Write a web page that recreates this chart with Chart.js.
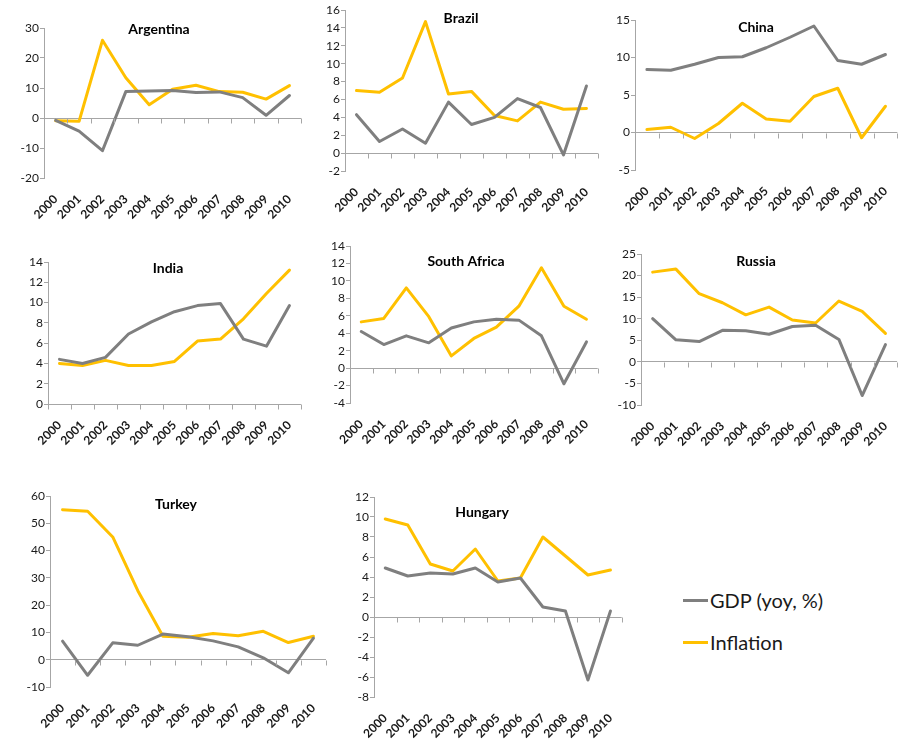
<!DOCTYPE html>
<html>
<head>
<meta charset="utf-8">
<title>GDP growth and inflation, 2000-2010</title>
<script src="https://cdn.jsdelivr.net/npm/chart.js@4.4.1/dist/chart.umd.min.js"></script>
<style>
  html, body { margin: 0; padding: 0; background: #ffffff; }
  body { width: 903px; height: 744px; position: relative; overflow: hidden; font-family: Lato, "Open Sans", sans-serif; }
  canvas.panel { position: absolute; }
  .legend { position: absolute; left: 683px; top: 586px; font: 20px Lato, "Open Sans", sans-serif; color: #1a1a1a; }
  .legend .item { display: flex; align-items: center; height: 28px; margin-bottom: 14px; white-space: nowrap; }
  .legend .swatch { width: 25px; height: 3px; margin-right: 2px; }
</style>
</head>
<body>
<div class="legend">
  <div class="item"><span class="swatch" style="background:#7f7f7f"></span><span>GDP (yoy, %)</span></div>
  <div class="item"><span class="swatch" style="background:#ffc000"></span><span>Inflation</span></div>
</div>
<script>
// Years on every horizontal axis
const years = ['2000', '2001', '2002', '2003', '2004', '2005', '2006', '2007', '2008', '2009', '2010'];

// Real GDP growth (yoy, %) and consumer price inflation (%) by country
const argentinaGdp       = [-0.8, -4.4, -10.9, 8.8, 9.0, 9.2, 8.5, 8.7, 6.8, 0.9, 7.5];
const argentinaInflation = [-0.9, -1.1, 25.9, 13.4, 4.4, 9.6, 10.9, 8.8, 8.6, 6.3, 10.8];
const brazilGdp          = [4.3, 1.3, 2.7, 1.1, 5.7, 3.2, 4.0, 6.1, 5.1, -0.2, 7.5];
const brazilInflation    = [7.0, 6.8, 8.4, 14.7, 6.6, 6.9, 4.2, 3.6, 5.7, 4.9, 5.0];
const chinaGdp           = [8.4, 8.3, 9.1, 10.0, 10.1, 11.3, 12.7, 14.2, 9.6, 9.1, 10.4];
const chinaInflation     = [0.4, 0.7, -0.8, 1.2, 3.9, 1.8, 1.5, 4.8, 5.9, -0.7, 3.5];
const indiaGdp           = [4.4, 4.0, 4.6, 6.9, 8.1, 9.1, 9.7, 9.9, 6.4, 5.7, 9.7];
const indiaInflation     = [4.0, 3.8, 4.3, 3.8, 3.8, 4.2, 6.2, 6.4, 8.4, 10.9, 13.2];
const southAfricaGdp       = [4.2, 2.7, 3.7, 2.9, 4.6, 5.3, 5.6, 5.5, 3.7, -1.8, 3.0];
const southAfricaInflation = [5.3, 5.7, 9.2, 5.9, 1.4, 3.4, 4.7, 7.1, 11.5, 7.1, 5.6];
const russiaGdp          = [10.0, 5.1, 4.7, 7.3, 7.2, 6.4, 8.2, 8.5, 5.2, -7.8, 4.0];
const russiaInflation    = [20.8, 21.5, 15.8, 13.7, 10.9, 12.7, 9.7, 9.0, 14.1, 11.7, 6.6];
const turkeyGdp          = [6.8, -5.7, 6.2, 5.3, 9.4, 8.4, 6.9, 4.7, 0.7, -4.8, 7.9];
const turkeyInflation    = [55.0, 54.4, 45.0, 25.3, 8.6, 8.2, 9.6, 8.8, 10.4, 6.3, 8.6];
const hungaryGdp         = [4.9, 4.1, 4.4, 4.3, 4.9, 3.5, 3.9, 1.0, 0.6, -6.3, 0.6];
const hungaryInflation   = [9.8, 9.2, 5.3, 4.6, 6.8, 3.6, 3.9, 8.0, 6.1, 4.2, 4.7];

// Series names
const gdpLabel = 'GDP (yoy, %)';
const inflationLabel = 'Inflation';

// Colours
const gdpColor = '#7f7f7f';
const inflationColor = '#ffc000';
const axisColor = '#a6a6a6';
const textColor = '#1a1a1a';

// Plot-area box on the page [left, top, right, bottom], axis range and title centre
const panels = [
  { title: 'Argentina',    gdp: argentinaGdp,   inflation: argentinaInflation,   min: -20, max: 30, step: 10, box: [44, 28, 306, 178],  titleAt: [159, 29] },
  { title: 'Brazil',       gdp: brazilGdp,      inflation: brazilInflation,      min: -2,  max: 16, step: 2,  box: [345, 10, 603, 171], titleAt: [461, 18] },
  { title: 'China',        gdp: chinaGdp,       inflation: chinaInflation,       min: -5,  max: 15, step: 5,  box: [635, 20, 902, 170], titleAt: [756, 27] },
  { title: 'India',        gdp: indiaGdp,       inflation: indiaInflation,       min: 0,   max: 14, step: 2,  box: [48, 262, 306, 404], titleAt: [168, 268] },
  { title: 'South Africa', gdp: southAfricaGdp, inflation: southAfricaInflation, min: -4,  max: 14, step: 2,  box: [350, 246, 603, 403], titleAt: [466, 261] },
  { title: 'Russia',       gdp: russiaGdp,      inflation: russiaInflation,      min: -10, max: 25, step: 5,  box: [641, 254, 902, 405], titleAt: [756, 261] },
  { title: 'Turkey',       gdp: turkeyGdp,      inflation: turkeyInflation,      min: -10, max: 60, step: 10, box: [50, 496, 330, 687], titleAt: [176, 504] },
  { title: 'Hungary',      gdp: hungaryGdp,     inflation: hungaryInflation,     min: -8,  max: 12, step: 2,  box: [374, 497, 627, 697], titleAt: [482, 512] }
];

// Space reserved around each plot area inside its canvas
const yAxisWidth = 44;
const xAxisHeight = 58;
const padTop = 10;
const padRight = 8;

// Draws the panel heading inside the plot area and the small tick marks
// hanging below the zero line at each category boundary.
const panelDecor = {
  id: 'panelDecor',
  afterDraw(chart, args, opts) {
    const { ctx, chartArea, scales } = chart;
    const x = scales.x, y = scales.y;
    const zero = Math.round(y.getPixelForValue(0)) + 0.5;
    ctx.save();
    ctx.strokeStyle = axisColor;
    ctx.lineWidth = 1;
    ctx.beginPath();
    for (let i = 0; i <= years.length; i++) {
      const px = Math.round(x.getPixelForValue(i - 0.5)) + 0.5;
      ctx.moveTo(px, zero);
      ctx.lineTo(px, zero + 5);
    }
    ctx.stroke();
    ctx.fillStyle = '#000000';
    ctx.font = 'bold 14px Lato, "Open Sans", sans-serif';
    ctx.textAlign = 'center';
    ctx.textBaseline = 'middle';
    ctx.fillText(opts.text, chartArea.left + opts.dx, chartArea.top + opts.dy);
    ctx.restore();
  }
};

panels.forEach((p) => {
  const [left, top, right, bottom] = p.box;
  const canvas = document.createElement('canvas');
  canvas.className = 'panel';
  canvas.width = (right - left) + yAxisWidth + padRight;
  canvas.height = (bottom - top) + padTop + xAxisHeight;
  canvas.style.left = (left - yAxisWidth) + 'px';
  canvas.style.top = (top - padTop) + 'px';
  canvas.style.width = canvas.width + 'px';
  canvas.style.height = canvas.height + 'px';
  document.body.appendChild(canvas);

  new Chart(canvas, {
    type: 'line',
    data: {
      labels: years,
      datasets: [
        { label: gdpLabel, data: p.gdp, borderColor: gdpColor, backgroundColor: gdpColor },
        { label: inflationLabel, data: p.inflation, borderColor: inflationColor, backgroundColor: inflationColor }
      ]
    },
    options: {
      responsive: false,
      animation: false,
      devicePixelRatio: 1,
      layout: { padding: { top: padTop, right: padRight, left: 0, bottom: 0 } },
      elements: {
        line: { borderWidth: 3, tension: 0, borderJoinStyle: 'round', borderCapStyle: 'round' },
        point: { radius: 0, hoverRadius: 0 }
      },
      plugins: {
        legend: { display: false },
        tooltip: { enabled: false },
        title: { display: false },
        panelDecor: { text: p.title, dx: p.titleAt[0] - left, dy: p.titleAt[1] - top }
      },
      scales: {
        x: {
          type: 'category',
          offset: true,
          grid: { display: false, drawTicks: false },
          border: { display: false },
          ticks: {
            autoSkip: false,
            minRotation: 45,
            maxRotation: 45,
            padding: 14,
            color: textColor,
            font: { family: 'Lato, "Open Sans", sans-serif', size: 12, weight: 'bold' }
          },
          afterFit(scale) { scale.height = xAxisHeight; }
        },
        y: {
          min: p.min,
          max: p.max,
          border: { display: true, color: axisColor, width: 1 },
          grid: {
            drawOnChartArea: true,
            drawTicks: true,
            tickLength: 4,
            tickColor: axisColor,
            color: (c) => (c.tick && c.tick.value === 0 ? axisColor : 'rgba(0,0,0,0)')
          },
          ticks: {
            stepSize: p.step,
            padding: 1,
            color: textColor,
            font: { family: 'Lato, "Open Sans", sans-serif', size: 12 }
          },
          afterFit(scale) { scale.width = yAxisWidth; }
        }
      }
    },
    plugins: [panelDecor]
  });
});
</script>
</body>
</html>
